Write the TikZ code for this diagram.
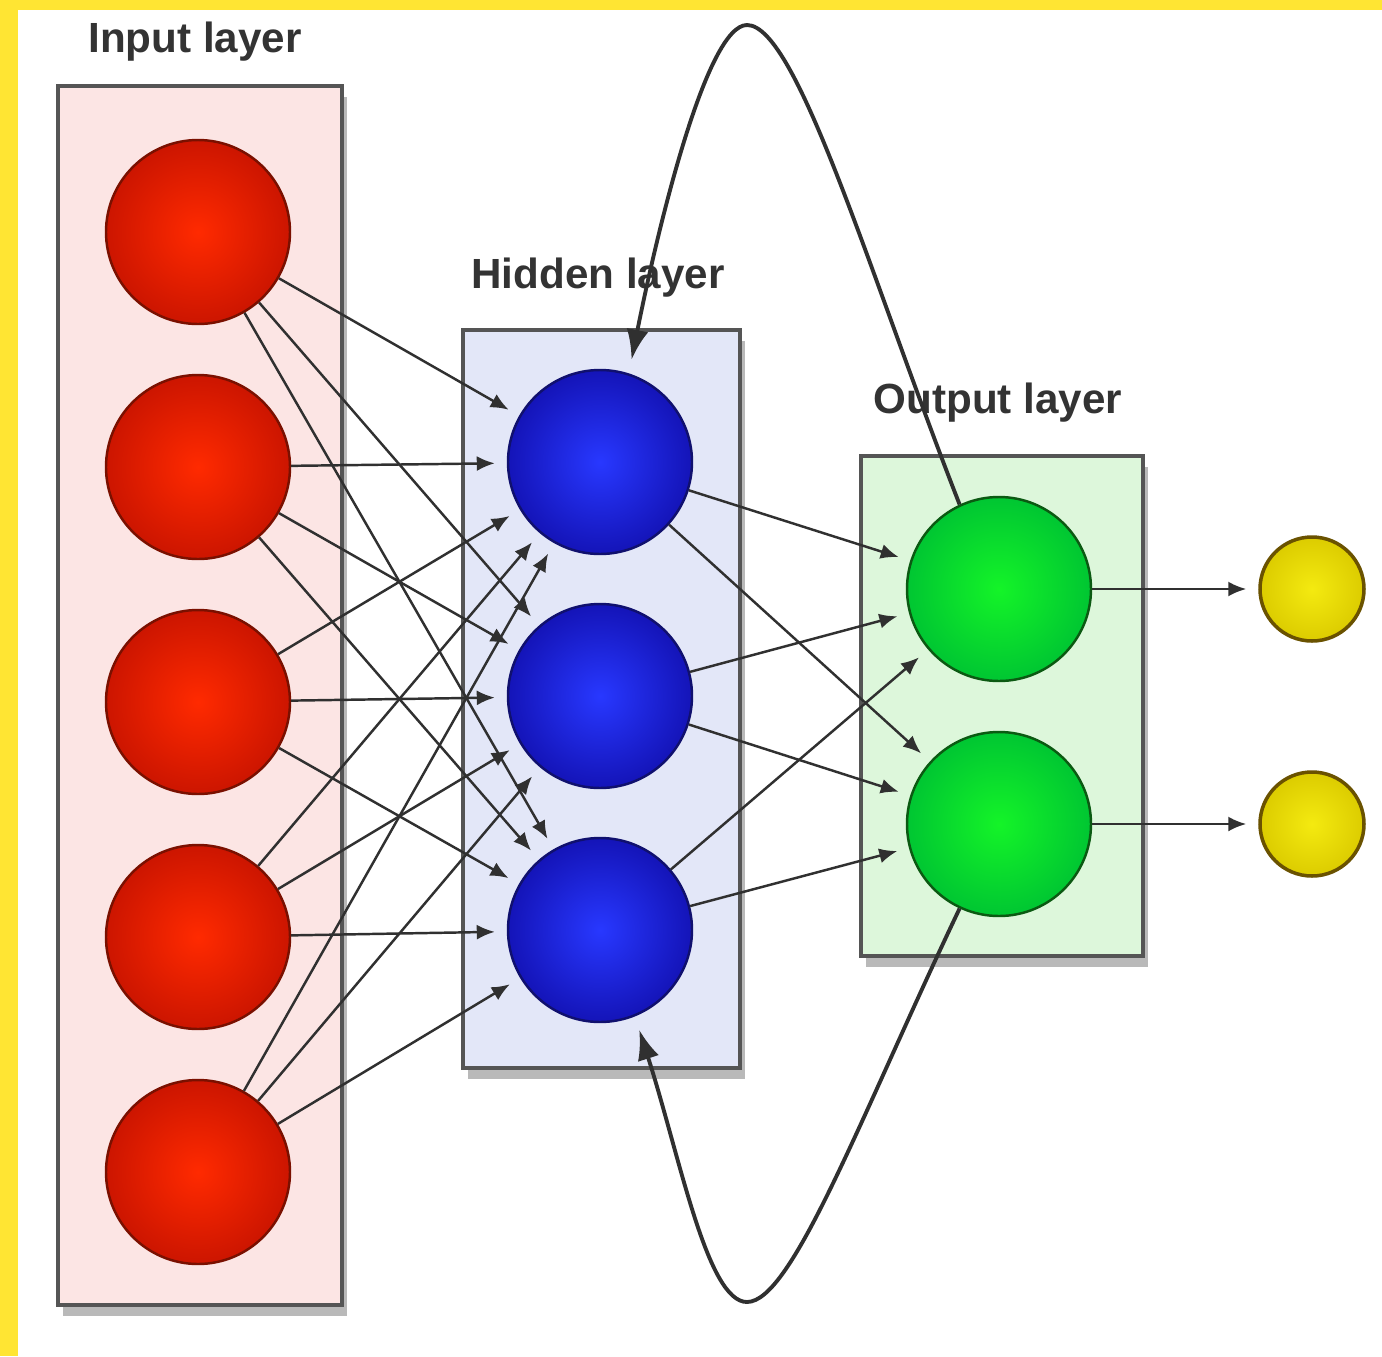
\documentclass[tikz,border=0pt]{standalone}
\usepackage{fontspec}
\setmainfont{Liberation Sans}
\usetikzlibrary{arrows.meta,shadows}

\definecolor{frameyellow}{HTML}{FFE533}
\definecolor{boxgrey}{HTML}{555555}
\definecolor{linegrey}{HTML}{303030}
\definecolor{labelgrey}{HTML}{333333}
\definecolor{inbg}{HTML}{FCE5E4}
\definecolor{hidbg}{HTML}{E3E7F8}
\definecolor{outbg}{HTML}{DDF7DB}
\definecolor{redin}{HTML}{FF2A00}
\definecolor{redout}{HTML}{CC1500}
\definecolor{redline}{HTML}{7A1000}
\definecolor{bluein}{HTML}{2838FF}
\definecolor{blueout}{HTML}{1414B8}
\definecolor{blueline}{HTML}{10106E}
\definecolor{greenin}{HTML}{14F428}
\definecolor{greenout}{HTML}{00C632}
\definecolor{greenline}{HTML}{0B5A12}
\definecolor{yelin}{HTML}{F4EA10}
\definecolor{yelout}{HTML}{DCCC00}
\definecolor{yelline}{HTML}{6A5200}

\begin{document}
\begin{tikzpicture}[
  layerbox/.style={draw=boxgrey, line width=1.1pt,
    drop shadow={shadow xshift=0.05cm, shadow yshift=-0.11cm, opacity=0.55}},
  unit/.style={circle, minimum size=1.84cm, inner sep=0pt, line width=0.7pt, shading=radial},
  redunit/.style={unit, draw=redline, inner color=redin, outer color=redout},
  blueunit/.style={unit, draw=blueline, inner color=bluein, outer color=blueout},
  greenunit/.style={unit, draw=greenline, inner color=greenin, outer color=greenout},
  resunit/.style={unit, minimum size=1.04cm, line width=1pt, draw=yelline, inner color=yelin, outer color=yelout},
  conn/.style={draw=linegrey, line width=0.7pt, -{Latex[length=0.18cm,width=0.15cm]}, shorten >=0.12cm},
  loopback/.style={draw=linegrey, line width=1.1pt, -{Latex[length=0.3cm,width=0.22cm]}, shorten >=0.14cm},
  title/.style={font=\fontsize{12}{14}\selectfont\bfseries, text=labelgrey, anchor=base}
]
  \useasboundingbox (0, 0) rectangle (13.82, -13.56);
  \fill[frameyellow] (0, 0) rectangle (13.82, -13.56);
  \fill[white] (0.18, -0.10) rectangle (13.82, -13.56);

  % layer boxes
  \draw[layerbox, fill=inbg] (0.58, -0.86) rectangle (3.42, -13.05);
  \draw[layerbox, fill=hidbg] (4.63, -3.30) rectangle (7.40, -10.68);
  \draw[layerbox, fill=outbg] (8.61, -4.56) rectangle (11.43, -9.56);

  \node[title] (lin) at (1.95, -0.52) {Input layer};
  \node[title] (lhid) at (5.98, -2.88) {Hidden layer};
  \node[title] (lout) at (9.98, -4.13) {Output layer};

  % units
  \foreach \i in {1, ..., 5}
    \node[redunit] (in\i) at (1.98, {-2.32 - 2.35*(\i - 1)}) {};
  \foreach \i in {1, 2, 3}
    \node[blueunit] (hid\i) at (6.00, {-4.62 - 2.34*(\i - 1)}) {};
  \foreach \i in {1, 2} {
    \node[greenunit] (out\i) at (9.99, {-5.89 - 2.35*(\i - 1)}) {};
    \node[resunit] (res\i) at (13.12, {-5.89 - 2.35*(\i - 1)}) {};
  }

  % weights
  \foreach \i in {1, ..., 5}
    \foreach \j in {1, 2, 3}
      \draw[conn] (in\i) -- (hid\j);
  \foreach \j in {1, 2, 3}
    \foreach \k in {1, 2}
      \draw[conn] (hid\j) -- (out\k);
  \foreach \k in {1, 2}
    \draw[conn] (out\k) -- (res\k);

  % feedback
  \coordinate (topturn) at (7.47, -0.25);
  \coordinate (botturn) at (7.47, -13.02);
  \draw[loopback] (out1.115) .. controls +(-0.9, 2.3) and +(0.5, 0) .. (topturn)
    .. controls +(-0.4, 0) and +(0.3, 1.5) .. (hid1.72);
  \draw[loopback] (out2.245) .. controls +(-1.0, -2.1) and +(0.45, 0) .. (botturn)
    .. controls +(-0.4, 0) and +(0.45, -1.4) .. (hid3.292);
\end{tikzpicture}
\end{document}
